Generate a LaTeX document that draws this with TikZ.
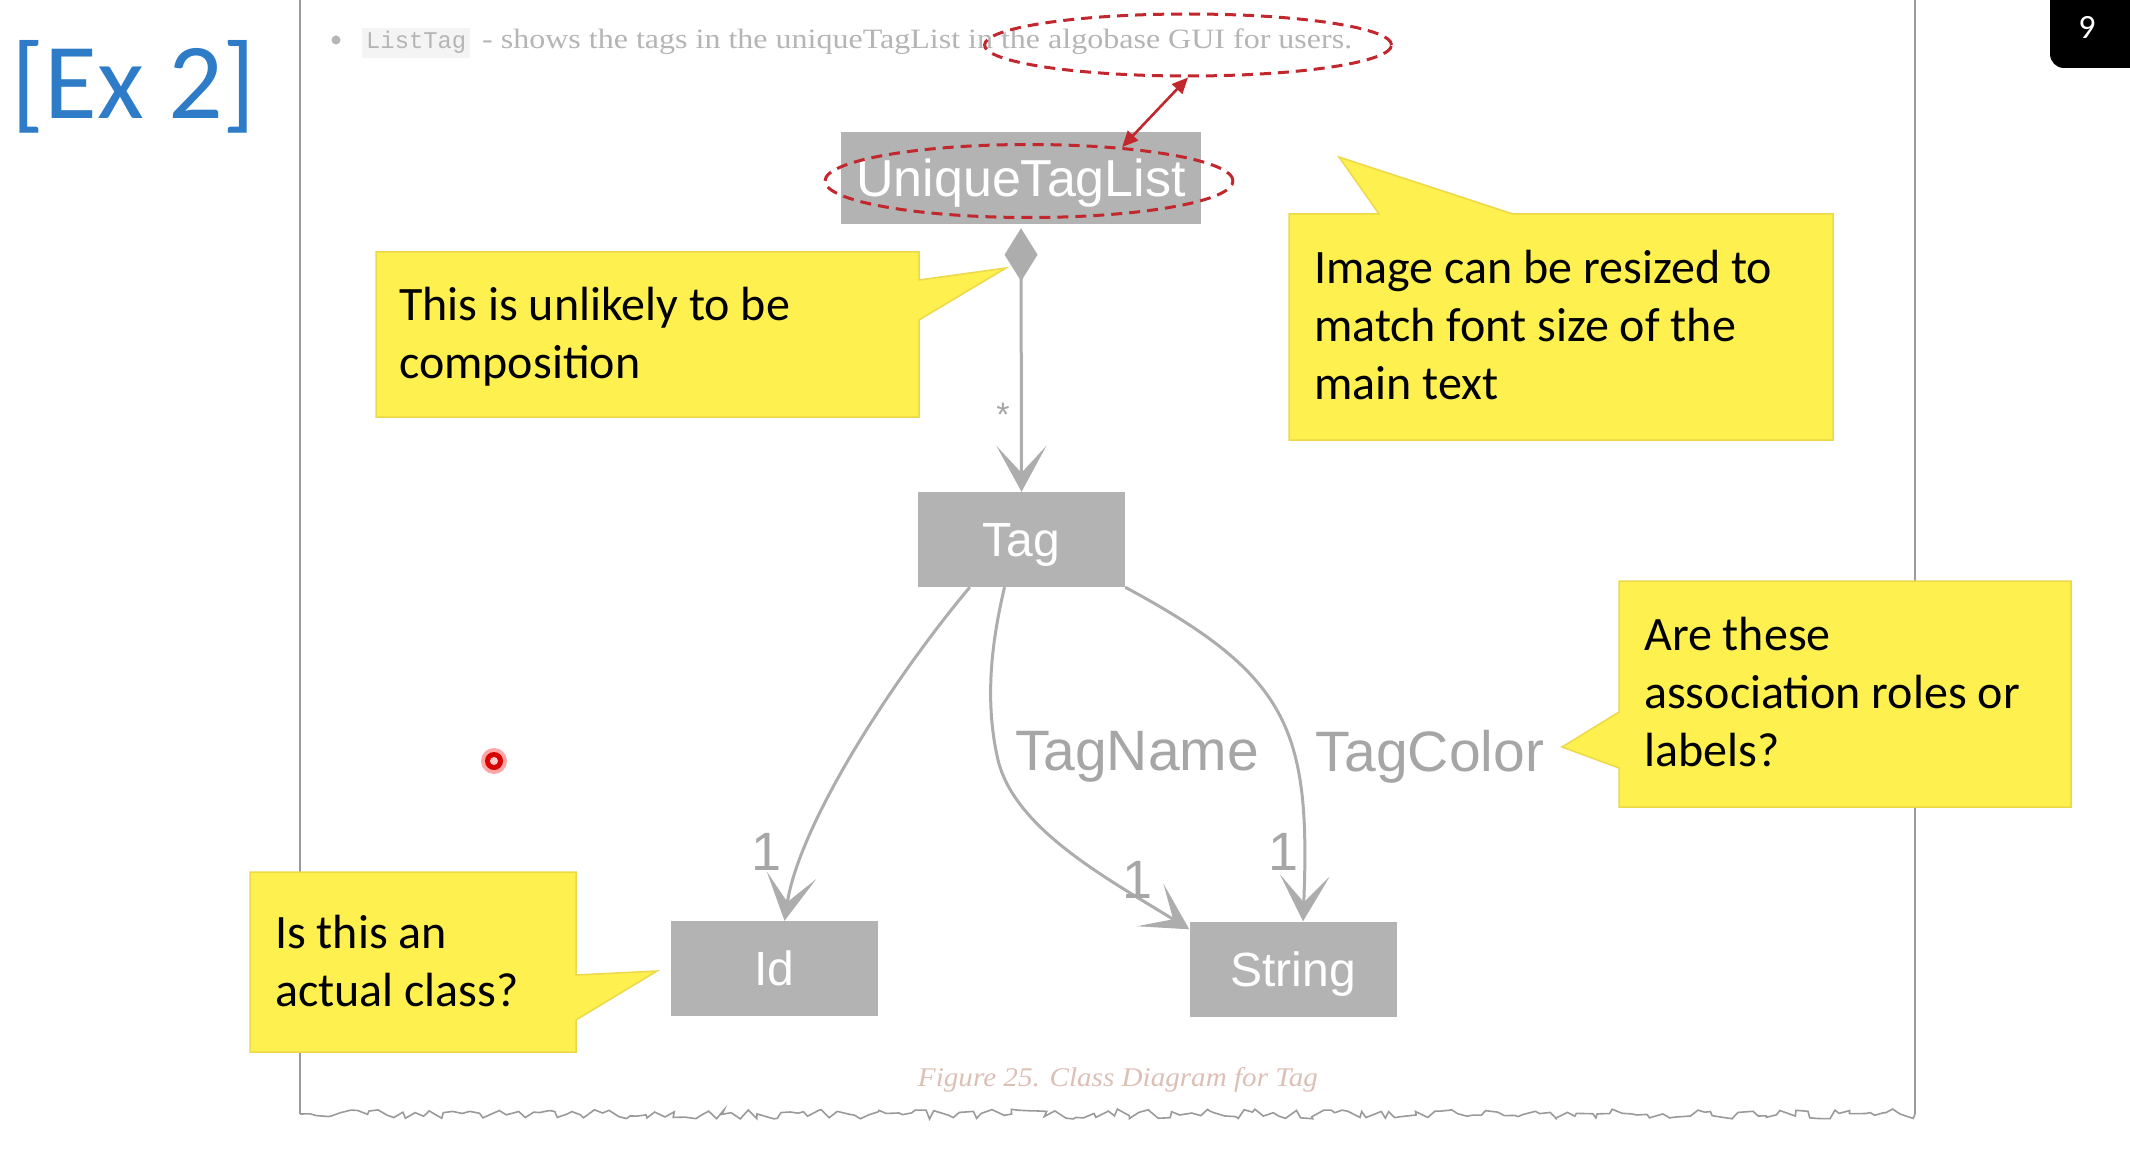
\documentclass[tikz,border=0pt]{standalone}
\usepackage{fontspec}
\usepackage{graphicx}
\setmainfont{Carlito}
\newfontfamily\helv{Liberation Sans}
\newfontfamily\serifL{Liberation Serif}
\newfontfamily\monoL{Liberation Mono}
\usetikzlibrary{arrows.meta,shapes.geometric,decorations.pathmorphing}
\definecolor{boxgray}{HTML}{B3B3B3}
\definecolor{linegray}{HTML}{ADADAD}
\definecolor{labelgray}{HTML}{A6A6A6}
\definecolor{callfill}{HTML}{FEF04E}
\definecolor{callline}{HTML}{EDD84A}
\definecolor{redd}{HTML}{C1272D}
\definecolor{exblue}{HTML}{2E7BC8}
\definecolor{framegray}{HTML}{9A9A9A}
\definecolor{txtgray}{HTML}{B5B5B5}
\definecolor{codebg}{HTML}{F4F4F4}
\definecolor{capcol}{HTML}{DCC0B6}
\begin{document}
\begin{tikzpicture}[x=1pt,y=-1pt,
  cls/.style={fill=boxgray, text=white, font=\helv\fontsize{48}{58}\selectfont, inner sep=0pt, text depth=0pt, minimum width=207pt, minimum height=95pt},
  conn/.style={draw=linegray, line width=3pt},
  vtip/.style={-{Stealth[length=46pt,width=50pt,inset=27pt]}},
  lbl/.style={text=labelgray, font=\helv\fontsize{57}{60}\selectfont, inner sep=0pt},
  mult/.style={text=labelgray, font=\helv\fontsize{54}{60}\selectfont, inner sep=0pt},
  calloutbox/.style={fill=callfill, draw=callline, line width=1.5pt},
  calltext/.style={font=\fontsize{48}{58}\selectfont, align=left, inner sep=0pt, text=black},
  redell/.style={ellipse, draw=redd, line width=3pt, dash pattern=on 11pt off 7pt, inner sep=0pt},
  framel/.style={draw=framegray, line width=1.6pt}]
\useasboundingbox (0,0) rectangle (2130,1150);
\fill[white] (0,0) rectangle (2130,1150);
% page frame
\draw[framel] (300,0) -- (300,1114);
\draw[framel] (1915,0) -- (1915,1114);
\pgfmathsetseed{11}
\draw[framel, decorate, decoration={random steps, segment length=7pt, amplitude=5pt}] (300,1114) -- (1915,1114);
% title
\node[anchor=base west, inner sep=0pt, font=\fontsize{108}{108}\selectfont, text=exblue] (ex) at (11,119) {[Ex 2]};
% slide number
\fill[black, rounded corners=14pt] (2050,-30) -- (2050,68) -- (2150,68) -- (2150,-30) -- cycle;
\node[text=white, font=\fontsize{34}{34}\selectfont, inner sep=0pt] (num) at (2087,27) {9};
% bullet line
\fill[txtgray] (336,40) circle (4.5pt);
\node[anchor=base west, fill=codebg, inner xsep=4pt, inner ysep=4pt, text=txtgray, font=\monoL\fontsize{24}{26}\selectfont] (lt) at (362,49) {\resizebox{100pt}{\height}{ListTag}};
\node[anchor=base west, inner sep=0pt, text=txtgray, font=\serifL\fontsize{28}{30}\selectfont] (bl) at (482,49) {\resizebox{870pt}{\height}{- shows the tags in the uniqueTagList in the algobase GUI for users.}};
% classes
\node[cls, minimum width=360pt, minimum height=92pt, font=\helv\fontsize{52}{58}\selectfont] (utl) at (1021,178) {UniqueTagList};
\node[cls] (tag) at (1021.5,539.5) {Tag};
\node[cls] (id) at (774.5,968.5) {Id};
\node[cls] (str) at (1293,969) {String};
% connectors
\draw[conn, {Diamond[length=53pt,width=33pt]}-{Stealth[length=46pt,width=50pt,inset=27pt]}] ([yshift=-4pt]utl.south) -- (tag.north);
\draw[conn, vtip] ([xshift=52pt]tag.south west) .. controls (900,670) and (800,820) .. ([xshift=10pt]id.north);
\draw[conn, vtip] ([xshift=-17pt]tag.south) .. controls (992,640) and (984,700) .. (998,760) .. controls (1015,830) and (1110,880) .. ([yshift=-8pt]str.north west);
\draw[conn, vtip] (tag.south east) .. controls (1288,675) and (1311,728) .. ([xshift=10pt]str.north);
% labels
\node[text=labelgray, font=\helv\fontsize{34}{34}\selectfont, inner sep=0pt] (star) at (1003,415) {*};
\node[mult] (m1) at (767,852) {1};
\node[mult] (m2) at (1138,880) {1};
\node[mult] (m3) at (1283,852) {1};
\node[lbl] (ln) at (1137,757) {TagName};
\node[lbl] (lc) at (1430,757) {TagColor};
% red highlight
\node[redell, minimum width=407pt, minimum height=62pt] (e1) at (1188,45) {};
\node[redell, minimum width=408pt, minimum height=73pt] (e2) at (1029,181) {};
\draw[draw=redd, line width=2.6pt, {Triangle[length=16pt,width=14pt]}-{Triangle[length=16pt,width=14pt]}] (e2.20) -- (e1.south);
% callouts
\path[calloutbox] (376,252) -- (919,252) -- (919,280) -- (1006,268) -- (919,320) -- (919,417) -- (376,417) -- cycle;
\node[calltext, anchor=base west] (c1) at (399,378) {This is unlikely to be\\composition};
\path[calloutbox] (1289,214) -- (1379,214) -- (1339,157) -- (1513,214) -- (1833,214) -- (1833,440) -- (1289,440) -- cycle;
\node[calltext, anchor=base west] (c2) at (1314,399) {Image can be resized to\\match font size of the\\main text};
\path[calloutbox] (1619,581) -- (2071,581) -- (2071,807) -- (1619,807) -- (1619,768) -- (1562,747) -- (1619,712) -- cycle;
\node[calltext, anchor=base west] (c3) at (1644,766) {Are these\\association roles or\\labels?};
\path[calloutbox] (250,872) -- (576,872) -- (576,975) -- (657,971) -- (576,1020) -- (576,1052) -- (250,1052) -- cycle;
\node[calltext, anchor=base west] (c4) at (275,1006) {Is this an\\actual class?};
% laser pointer dot
\fill[red!35!white] (494,761) circle (13pt);
\fill[red!85!black] (494,761) circle (9pt);
\fill[red!20!white] (494,761) circle (4pt);
% caption
\node[inner sep=0pt, text=capcol, font=\serifL\itshape\fontsize{27}{30}\selectfont] (cap) at (1118,1080) {\resizebox{400pt}{\height}{Figure 25. Class Diagram for Tag}};
\end{tikzpicture}
\end{document}
